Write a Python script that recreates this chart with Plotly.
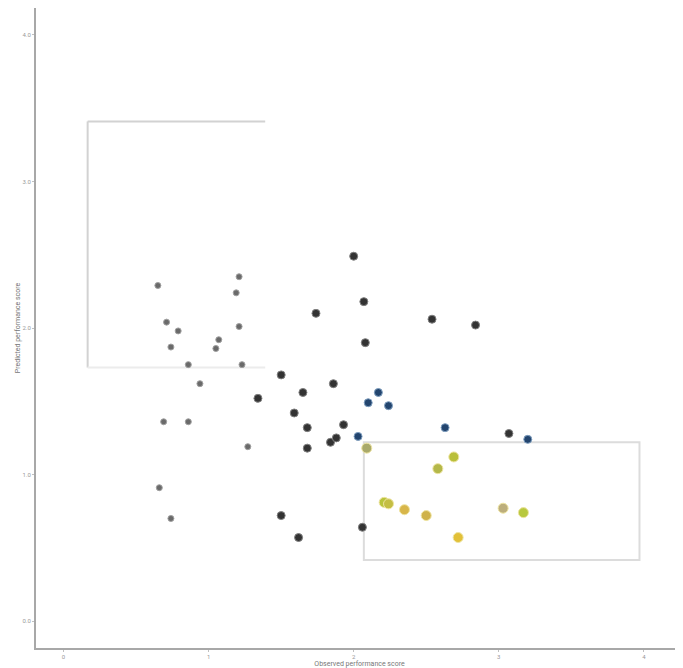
import plotly.graph_objects as go

# Light gray group (small markers)
gray_x = [0.65, 0.71, 0.79, 0.74, 1.05, 1.07, 0.86, 1.23, 0.94, 0.69, 0.86, 0.66, 0.74, 1.27, 1.21, 1.19, 1.21]
gray_y = [2.29, 2.04, 1.98, 1.87, 1.86, 1.92, 1.75, 1.75, 1.62, 1.36, 1.36, 0.91, 0.70, 1.19, 2.35, 2.24, 2.01]

# Dark group
dark_x = [2.00, 2.07, 2.08, 1.74, 2.54, 2.84, 1.50, 1.86, 1.65, 1.34, 1.59, 1.68, 1.93, 1.84, 1.88, 1.68, 3.07, 2.06, 1.50, 1.62]
dark_y = [2.49, 2.18, 1.90, 2.10, 2.06, 2.02, 1.68, 1.62, 1.56, 1.52, 1.42, 1.32, 1.34, 1.22, 1.25, 1.18, 1.28, 0.64, 0.72, 0.57]

# Blue group
blue_x = [2.17, 2.10, 2.24, 2.03, 2.63, 3.20]
blue_y = [1.56, 1.49, 1.47, 1.26, 1.32, 1.24]

# Yellow group
yel_x = [2.09, 2.69, 2.58, 2.21, 2.24, 2.35, 2.50, 2.72, 3.03, 3.17]
yel_y = [1.18, 1.12, 1.04, 0.81, 0.80, 0.76, 0.72, 0.57, 0.77, 0.74]
yel_colors = ["#a9a96a", "#b9bf3a", "#b4b84a", "#b9c43c", "#c4be44", "#d8b64a", "#cfb24a", "#e2c038", "#bcae7c", "#b8c83e"]

# Highlight boxes (x0, x1, y0, y1)
box1 = [0.166, 1.39, 1.73, 3.41]
box2 = [2.07, 3.97, 0.416, 1.22]

x_tick_vals = [0, 1, 2, 3, 4]
x_tick_text = ["0", "1", "2", "3", "4"]
y_tick_vals = [0, 1, 2, 3, 4]
y_tick_text = ["0.0", "1.0", "2.0", "3.0", "4.0"]

fig = go.Figure()
fig.add_trace(go.Scatter(x=gray_x, y=gray_y, mode="markers",
                         marker=dict(size=6, color="#6a6a6a", line=dict(width=1, color="#a0a0a0")),
                         showlegend=False))
fig.add_trace(go.Scatter(x=dark_x, y=dark_y, mode="markers",
                         marker=dict(size=8, color="#333333", line=dict(width=1, color="#808080")),
                         showlegend=False))
fig.add_trace(go.Scatter(x=blue_x, y=blue_y, mode="markers",
                         marker=dict(size=8, color="#23456e", line=dict(width=1, color="#7f9fc0")),
                         showlegend=False))
fig.add_trace(go.Scatter(x=yel_x, y=yel_y, mode="markers",
                         marker=dict(size=10, color=yel_colors, line=dict(width=1, color="#eee4a0")),
                         showlegend=False))

# Box 1: bracket-like outline (left + top strong, bottom faint)
fig.add_shape(type="line", x0=box1[0], x1=box1[0], y0=box1[2], y1=box1[3],
              line=dict(color="#d2d2d2", width=2), layer="below")
fig.add_shape(type="line", x0=box1[0], x1=box1[1], y0=box1[3], y1=box1[3],
              line=dict(color="#d2d2d2", width=2), layer="below")
fig.add_shape(type="line", x0=box1[0], x1=box1[1], y0=box1[2], y1=box1[2],
              line=dict(color="#ececec", width=2), layer="below")
# Box 2: full rectangle
fig.add_shape(type="rect", x0=box2[0], x1=box2[1], y0=box2[2], y1=box2[3],
              line=dict(color="#dcdcdc", width=2), fillcolor="rgba(0,0,0,0)", layer="below")

fig.update_layout(
    width=675, height=660,
    margin=dict(l=28, r=0, t=0, b=20),
    paper_bgcolor="white", plot_bgcolor="white",
    font=dict(family="Roboto, sans-serif", size=6, color="#999999"),
    xaxis=dict(range=[-0.19, 4.27], tickvals=x_tick_vals, ticktext=x_tick_text, automargin=False,
               showgrid=False, zeroline=False, showline=True, linecolor="#a8a8a8", linewidth=2,
               ticks="outside", ticklen=2, tickcolor="#c0c0c0",
               title=dict(text="Observed performance score", font=dict(size=7, color="#777777"), standoff=0)),
    yaxis=dict(range=[-0.184, 4.184], tickvals=y_tick_vals, ticktext=y_tick_text, automargin=False,
               showgrid=False, zeroline=False, showline=True, linecolor="#a8a8a8", linewidth=2,
               ticks="outside", ticklen=2, tickcolor="#c0c0c0",
               title=dict(text="Predicted performance score", font=dict(size=7, color="#777777"), standoff=0)),
)

fig.write_html("out.html")
